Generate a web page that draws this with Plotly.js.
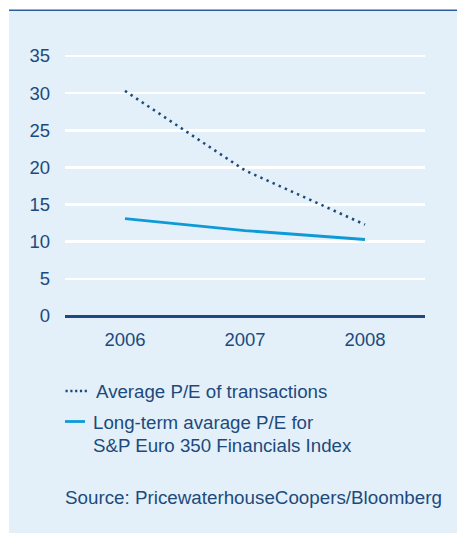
<!DOCTYPE html>
<html>
<head>
<meta charset="utf-8">
<script src="https://cdn.plot.ly/plotly-3.0.1.min.js"></script>
<style>html,body{margin:0;padding:0;background:#fff;}#chart{width:457px;height:533px;}</style>
</head>
<body>
<div id="chart"></div>
<script>
// ---- data ----
const years = ["2006", "2007", "2008"];
const avgPE = [30.3, 19.6, 12.3];
const longTermPE = [13.1, 11.5, 10.3];
const seriesNames = ["Average P/E of transactions", "Long-term avarage P/E for", "S&P Euro 350 Financials Index"];
const yTicks = [0, 5, 10, 15, 20, 25, 30, 35];
const sourceText = "Source: PricewaterhouseCoopers/Bloomberg";

// ---- layout helpers ----
const W = 457, H = 533;
const M = {l: 65, r: 32, t: 52, b: 213};
const PW = W - M.l - M.r, PH = H - M.t - M.b;
const px = x => (x - M.l) / PW;
const py = y => (H - M.b - y) / PH;

const dark = "#1d4a7c";
const light = "#0e9ad7";
const panel = "#e3f0f9";
const font = "Liberation Sans, Arial, sans-serif";

const traces = [
  {x: years, y: avgPE, type: "scatter", mode: "lines", name: seriesNames[0],
   line: {color: dark, width: 2.6, dash: "2.4px,4.3px"}, hoverinfo: "skip"},
  {x: years, y: longTermPE, type: "scatter", mode: "lines", name: seriesNames[1],
   line: {color: light, width: 2.8, shape: "spline", smoothing: 0.4}, hoverinfo: "skip"}
];

const layout = {
  width: W, height: H,
  margin: M,
  paper_bgcolor: "#ffffff",
  plot_bgcolor: "rgba(0,0,0,0)",
  showlegend: false,
  font: {family: font, color: dark, size: 18},
  xaxis: {
    type: "category", range: [-0.5, 2.5],
    showgrid: false, zeroline: false, showline: false, ticks: "",
    tickfont: {size: 18.5, color: dark}, ticklabelstandoff: 6, fixedrange: true
  },
  yaxis: {
    range: [-4 * 35 / 260, 35 + 4 * 35 / 260],
    tickvals: yTicks, ticktext: yTicks.map(String),
    showgrid: true, gridcolor: "#ffffff", gridwidth: 2.5,
    zeroline: true, zerolinecolor: dark, zerolinewidth: 3,
    showline: false, ticks: "", ticklabelstandoff: 14,
    tickfont: {size: 18.5, color: dark}, fixedrange: true
  },
  shapes: [
    {type: "rect", xref: "paper", yref: "paper", layer: "below",
     x0: px(9), x1: px(460), y0: py(10), y1: py(536),
     fillcolor: panel, line: {width: 0}},
    {type: "line", xref: "paper", yref: "paper",
     x0: px(9), x1: px(460), y0: py(10.3), y1: py(10.3),
     line: {color: "#2b5e9b", width: 1.6}},
    {type: "line", xref: "paper", yref: "paper",
     x0: px(65.5), x1: px(88), y0: py(391), y1: py(391),
     line: {color: dark, width: 2.4, dash: "2.2px,2.6px"}},
    {type: "line", xref: "paper", yref: "paper",
     x0: px(65), x1: px(85), y0: py(421.5), y1: py(421.5),
     line: {color: light, width: 2.8}}
  ],
  annotations: [
    {xref: "paper", yref: "paper", x: px(94), y: py(391), xanchor: "left", yanchor: "middle",
     text: seriesNames[0], showarrow: false, font: {size: 18.7, color: dark, family: font}},
    {xref: "paper", yref: "paper", x: px(91), y: py(422), xanchor: "left", yanchor: "middle",
     text: seriesNames[1], showarrow: false, font: {size: 18.7, color: dark, family: font}},
    {xref: "paper", yref: "paper", x: px(91), y: py(445), xanchor: "left", yanchor: "middle",
     text: seriesNames[2], showarrow: false, font: {size: 18.7, color: dark, family: font}},
    {xref: "paper", yref: "paper", x: px(63), y: py(497), xanchor: "left", yanchor: "middle",
     text: sourceText, showarrow: false, font: {size: 18.8, color: dark, family: font}}
  ]
};

Plotly.newPlot("chart", traces, layout, {staticPlot: true, displayModeBar: false});
</script>
</body>
</html>
